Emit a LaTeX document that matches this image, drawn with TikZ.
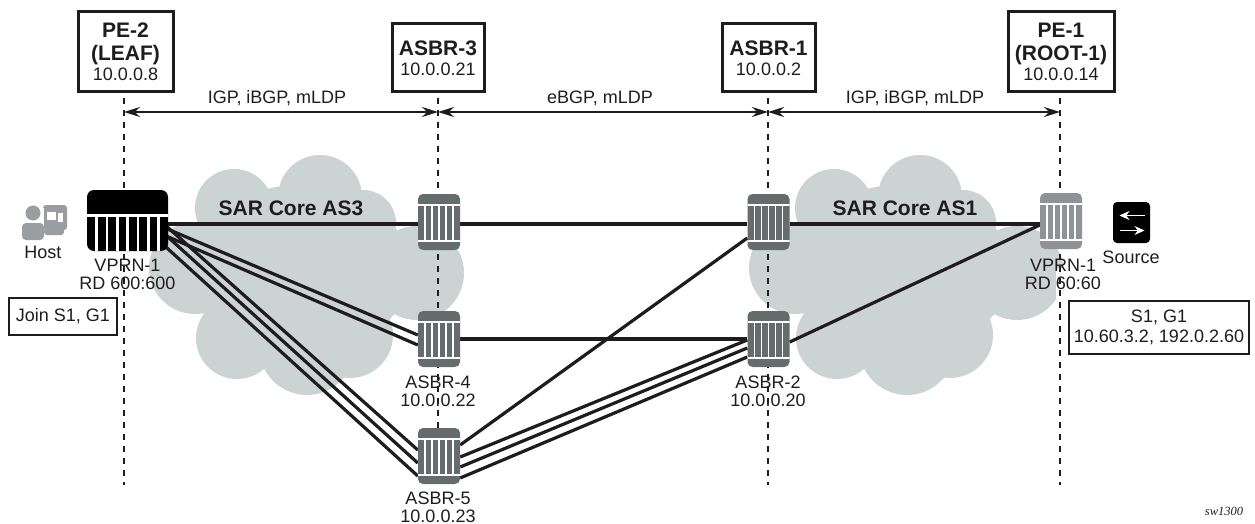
\documentclass[tikz,border=0pt]{standalone}
\usepackage{fontspec}
\setmainfont{Liberation Sans}
\newfontfamily\serifit{Liberation Serif}
\usetikzlibrary{arrows.meta,calc}
\definecolor{cloudc}{HTML}{CBD3D3}
\definecolor{routc}{HTML}{656C6C}
\definecolor{routl}{HTML}{8F9397}
\definecolor{inkc}{HTML}{1F1C1D}
\definecolor{iconc}{HTML}{9A9EA0}
\pgfdeclarelayer{cloudlayer}
\pgfdeclarelayer{linklayer}
\pgfsetlayers{cloudlayer,linklayer,main}
\newcommand{\bl}{\fontsize{21}{23}\selectfont\bfseries}
\newcommand{\rg}{\fontsize{18}{23}\selectfont\mdseries}
\tikzset{
  x=1pt,y=-1pt,
  lab/.style={font=\fontsize{18}{20}\selectfont,text=inkc,inner sep=0pt,align=center},
  boldlab/.style={font=\fontsize{21}{23}\selectfont\bfseries,text=inkc,inner sep=0pt},
  titlebox/.style={draw=inkc,line width=3pt,fill=white,inner sep=0pt,align=center,text=inkc,minimum width=#1,font=\fontsize{18}{23}\selectfont},
  notebox/.style={draw=inkc,line width=1.5pt,fill=white,inner sep=0pt,align=center,text=inkc,font=\fontsize{18}{20}\selectfont},
  dashline/.style={draw=inkc,line width=2.2pt,dash pattern=on 6pt off 6pt},
  span/.style={draw=inkc,line width=1.7pt,{Stealth[length=16pt,width=10pt]}-{Stealth[length=16pt,width=10pt]}},
  link/.style={draw=inkc,line width=3.2pt},
  router/.style={rectangle,rounded corners=5pt,minimum width=42pt,minimum height=56pt,inner sep=0pt,fill=#1,
    path picture={
      \begin{scope}[shift={(path picture bounding box.center)}]
        \draw[white,line width=1.3pt] (-22,-17) -- (22,-17) (-22,19) -- (22,19);
        \foreach \dx in {-14,-7,0,7,14}
          \draw[white,line width=1.3pt] (\dx,-17) -- (\dx,19);
      \end{scope}}},
  bigrouter/.style={rectangle,rounded corners=7pt,minimum width=81pt,minimum height=61pt,inner sep=0pt,fill=black,
    path picture={
      \begin{scope}[shift={(path picture bounding box.center)}]
        \draw[white,line width=2.5pt] (-42,-5) -- (42,-5);
        \foreach \dx in {-31,-20.5,-10,0,10.5,21,31}
          \draw[white,line width=2.6pt] (\dx,-5) -- (\dx,32);
      \end{scope}}},
  sourceicon/.style={rectangle,rounded corners=4pt,minimum width=37pt,minimum height=41pt,inner sep=0pt,fill=black,
    path picture={
      \begin{scope}[shift={(path picture bounding box.center)}]
        \draw[white,line width=1.3pt,-{Stealth[length=10pt,width=9pt]}] (13,-7) -- (-12,-7);
        \draw[white,line width=1.3pt,-{Stealth[length=10pt,width=9pt]}] (-12,8) -- (13,8);
      \end{scope}}},
}
\newcommand{\cloudshape}{%
  \fill[cloudc] (234,208) circle[radius=39] (320,197) circle[radius=42] (363,223) circle[radius=33]
    (417,273) circle[radius=47] (195,268) circle[radius=46] (237,338) circle[radius=41]
    (307,347) circle[radius=48] (350,335) circle[radius=43] (300,270) ellipse[x radius=110,y radius=85];
}
\begin{document}
\begin{tikzpicture}
\useasboundingbox (0,0) rectangle (1255,524);
\begin{pgfonlayer}{cloudlayer}
\cloudshape
\begin{scope}[xshift=600pt]
\cloudshape
\end{scope}
\fill[white] (1056,268) rectangle (1070,300);
\end{pgfonlayer}
% routers
\node[bigrouter] (pe2) at (127.5,220.5) {};
\node[router=routc] (r3) at (439,222) {};
\node[router=routc] (r4) at (439,339) {};
\node[router=routc] (r5) at (439,456) {};
\node[router=routc] (r1) at (768.5,222) {};
\node[router=routc] (r2) at (768.5,339) {};
\node[router=routl] (pe1) at (1061,221) {};
% guide lines and links
\coordinate (d1t) at (124,98);  \coordinate (d1b) at (124,485);
\coordinate (d2t) at (438,98);  \coordinate (d2b) at (438,430);
\coordinate (d3t) at (768,98);  \coordinate (d3b) at (768,485);
\coordinate (d4t) at (1060,98); \coordinate (d4b) at (1060,485);
\coordinate (a1) at (124,112); \coordinate (a2) at (438,112);
\coordinate (a3) at (768,112); \coordinate (a4) at (1060,112);
\begin{pgfonlayer}{linklayer}
\draw[dashline] (d1t) -- (d1b);
\draw[dashline] (d2t) -- (d2b);
\draw[dashline] (d3t) -- (d3b);
\draw[dashline] (d4t) -- (d4b);
\draw[link] ($(pe2.east)+(-2,3.5)$) -- ($(r3.west)+(0,2)$);
\draw[link] ($(r3.east)+(0,2)$) -- ($(r1.west)+(0,2)$);
\draw[link] ($(r1.east)+(0,2)$) -- ($(pe1.west)+(0,3)$);
\draw[link] ($(pe2.east)+(-2,8)$) -- ($(r4.west)+(0,-4)$);
\draw[link] ($(pe2.east)+(-2,15.5)$) -- ($(r4.west)+(0,6)$);
\draw[link] ($(pe2.east)+(-2,5.5)$) -- ($(r5.west)+(0,-6)$);
\draw[link] ($(pe2.east)+(-2,15)$) -- ($(r5.west)+(0,7)$);
\draw[link] ($(pe2.east)+(-4,25)$) -- ($(r5.west)+(0,20)$);
\draw[link] (r4.east) -- (r2.west);
\draw[link] ($(r5.east)+(0,-11)$) -- ($(r1.west)+(0,16)$);
\draw[link] ($(r5.east)+(0,1)$) -- ($(r2.west)+(0,1)$);
\draw[link] ($(r5.east)+(0,11)$) -- ($(r2.west)+(0,9)$);
\draw[link] ($(r5.east)+(0,22)$) -- ($(r2.west)+(0,18)$);
\draw[link] ($(r2.east)+(0,3)$) -- ($(pe1.west)+(0,4)$);
\end{pgfonlayer}
% spans
\draw[span] (a1) -- (a2);
\draw[span] (a2) -- (a3);
\draw[span] (a3) -- (a4);
\node[lab] (l1) at (277,98) {IGP, iBGP, mLDP};
\node[lab] (l2) at (600,98) {eBGP, mLDP};
\node[lab] (l3) at (915,98) {IGP, iBGP, mLDP};
% title boxes
\node[titlebox=95pt,minimum height=80pt] (bpe2) at (125.5,52) {\bl PE-2\\\bl (LEAF)\\[-3pt]\rg 10.0.0.8};
\node[titlebox=92pt,minimum height=68pt] (br3) at (438,58) {\bl ASBR-3\\[-3pt]\rg 10.0.0.21};
\node[titlebox=93pt,minimum height=68pt] (br1) at (768.5,58) {\bl ASBR-1\\[-3pt]\rg 10.0.0.2};
\node[titlebox=106pt,minimum height=80pt] (bpe1) at (1061,52) {\bl PE-1\\\bl (ROOT-1)\\[-3pt]\rg 10.0.0.14};
% cloud titles
\node[boldlab] (c3) at (291,208) {SAR Core AS3};
\node[boldlab] (c1) at (905,208) {SAR Core AS1};
% host icon
\node[inner sep=0pt,minimum width=46pt,minimum height=36pt] (host) at (44,222) {};
\fill[iconc,rounded corners=3pt] ($(host.center)+(-1,-17)$) rectangle ($(host.center)+(23,8)$);
\fill[iconc,rounded corners=3pt] ($(host.center)+(0,6)$) rectangle ($(host.center)+(20,13)$);
\fill[white] ($(host.center)+(3,-10)$) rectangle ($(host.center)+(12,-2)$);
\fill[white] ($(host.center)+(14,-9)$) rectangle ($(host.center)+(19,0)$);
\fill[white] ($(host.center)+(-16,-14)$) rectangle ($(host.center)+(0,18)$);
\fill[iconc] ($(host.center)+(-11,-9)$) circle[radius=7.5];
\fill[iconc,rounded corners=4pt] ($(host.center)+(-22,18)$) -- ($(host.center)+(-22,1)$) -- ($(host.center)+(0,1)$) -- ($(host.center)+(0,18)$) -- cycle;
\node[lab] (hostl) at (43,252) {Host};
% source icon
\node[sourceicon] (src) at (1131.5,222.5) {};
\node[lab] (srcl) at (1131,257) {Source};
% device labels
\node[lab] (v2) at (127.5,274) {VPRN-1\\[-2pt]RD 600:600};
\node[lab] (v1) at (1063,274) {VPRN-1\\[-2pt]RD 60:60};
\node[lab] (t4) at (438,391) {ASBR-4\\[-2pt]10.0.0.22};
\node[lab] (t5) at (438,507) {ASBR-5\\[-2pt]10.0.0.23};
\node[lab] (t2) at (768,391) {ASBR-2\\[-2pt]10.0.0.20};
% note boxes
\node[notebox,minimum width=108pt,minimum height=37pt] (join) at (63,316.5) {Join S1, G1};
\node[notebox,minimum width=180pt,minimum height=53pt] (sg) at (1159,327.5) {S1, G1\\10.60.3.2, 192.0.2.60};
\node[inner sep=0pt,text=inkc,font=\serifit\itshape\fontsize{12.5}{14}\selectfont] (sw) at (1224,511) {sw1300};
\end{tikzpicture}
\end{document}
